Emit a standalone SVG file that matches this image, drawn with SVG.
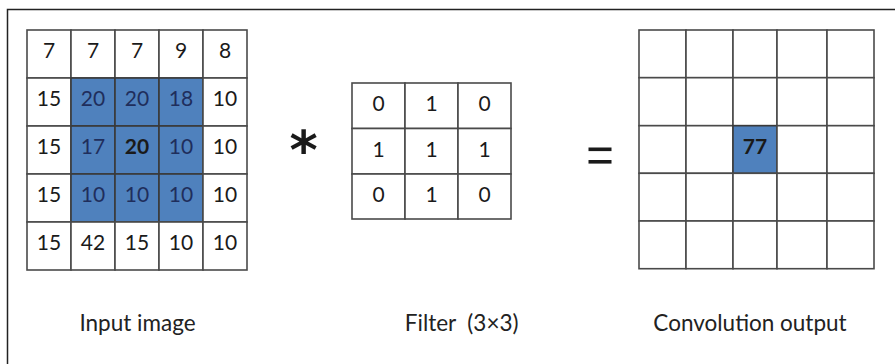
<svg xmlns="http://www.w3.org/2000/svg" width="895" height="364" viewBox="0 0 895 364">
<style>
.cell{fill:#ffffff;stroke:#4a4a4a;stroke-width:1.6}
.hl{fill:#4F81BD;stroke:#3a3a3a;stroke-width:1.6}
.num{font-family:Lato,"Liberation Sans",sans-serif;font-size:21px;fill:#1a1a1a;text-anchor:middle}
.numhl{fill:#1F2E5C}
.bold{font-weight:bold;fill:#1a1a1a}
.lbl{font-family:Lato,"Liberation Sans",sans-serif;font-size:22.5px;fill:#222;text-anchor:middle;white-space:pre}
</style>
<rect x="7.5" y="9.5" width="900" height="400" fill="#ffffff" stroke="#222" stroke-width="1.5"/>

<g id="input-image">
  <g id="input-cells">
    <rect class="cell" x="27" y="30" width="44" height="48"/>
    <rect class="cell" x="71" y="30" width="44" height="48"/>
    <rect class="cell" x="115" y="30" width="44" height="48"/>
    <rect class="cell" x="159" y="30" width="44" height="48"/>
    <rect class="cell" x="203" y="30" width="44" height="48"/>
    <rect class="cell" x="27" y="78" width="44" height="48"/>
    <rect class="hl" x="71" y="78" width="44" height="48"/>
    <rect class="hl" x="115" y="78" width="44" height="48"/>
    <rect class="hl" x="159" y="78" width="44" height="48"/>
    <rect class="cell" x="203" y="78" width="44" height="48"/>
    <rect class="cell" x="27" y="126" width="44" height="48"/>
    <rect class="hl" x="71" y="126" width="44" height="48"/>
    <rect class="hl" x="115" y="126" width="44" height="48"/>
    <rect class="hl" x="159" y="126" width="44" height="48"/>
    <rect class="cell" x="203" y="126" width="44" height="48"/>
    <rect class="cell" x="27" y="174" width="44" height="48"/>
    <rect class="hl" x="71" y="174" width="44" height="48"/>
    <rect class="hl" x="115" y="174" width="44" height="48"/>
    <rect class="hl" x="159" y="174" width="44" height="48"/>
    <rect class="cell" x="203" y="174" width="44" height="48"/>
    <rect class="cell" x="27" y="222" width="44" height="48"/>
    <rect class="cell" x="71" y="222" width="44" height="48"/>
    <rect class="cell" x="115" y="222" width="44" height="48"/>
    <rect class="cell" x="159" y="222" width="44" height="48"/>
    <rect class="cell" x="203" y="222" width="44" height="48"/>
  </g>
  <g id="input-values">
    <text class="num" x="49" y="58">7</text>
    <text class="num" x="93" y="58">7</text>
    <text class="num" x="137" y="58">7</text>
    <text class="num" x="181" y="58">9</text>
    <text class="num" x="225" y="58">8</text>
    <text class="num" x="49" y="106">15</text>
    <text class="num numhl" x="93" y="106">20</text>
    <text class="num numhl" x="137" y="106">20</text>
    <text class="num numhl" x="181" y="106">18</text>
    <text class="num" x="225" y="106">10</text>
    <text class="num" x="49" y="154">15</text>
    <text class="num numhl" x="93" y="154">17</text>
    <text class="num bold" x="137" y="154">20</text>
    <text class="num numhl" x="181" y="154">10</text>
    <text class="num" x="225" y="154">10</text>
    <text class="num" x="49" y="202">15</text>
    <text class="num numhl" x="93" y="202">10</text>
    <text class="num numhl" x="137" y="202">10</text>
    <text class="num numhl" x="181" y="202">10</text>
    <text class="num" x="225" y="202">10</text>
    <text class="num" x="49" y="250">15</text>
    <text class="num" x="93" y="250">42</text>
    <text class="num" x="137" y="250">15</text>
    <text class="num" x="181" y="250">10</text>
    <text class="num" x="225" y="250">10</text>
  </g>
</g>

<g id="operator-multiply">
  <text x="303.5" y="169" font-family="'DejaVu Sans',sans-serif" font-weight="bold" font-size="54" fill="#1a1a1a" text-anchor="middle">*</text>
</g>

<g id="filter">
  <rect class="cell" x="352" y="83" width="53" height="45.5"/>
  <rect class="cell" x="405" y="83" width="53" height="45.5"/>
  <rect class="cell" x="458" y="83" width="53" height="45.5"/>
  <rect class="cell" x="352" y="128.5" width="53" height="45.5"/>
  <rect class="cell" x="405" y="128.5" width="53" height="45.5"/>
  <rect class="cell" x="458" y="128.5" width="53" height="45.5"/>
  <rect class="cell" x="352" y="174" width="53" height="45"/>
  <rect class="cell" x="405" y="174" width="53" height="45"/>
  <rect class="cell" x="458" y="174" width="53" height="45"/>
  <text class="num" x="378.5" y="111">0</text>
  <text class="num" x="431.5" y="111">1</text>
  <text class="num" x="484.5" y="111">0</text>
  <text class="num" x="378.5" y="156.5">1</text>
  <text class="num" x="431.5" y="156.5">1</text>
  <text class="num" x="484.5" y="156.5">1</text>
  <text class="num" x="378.5" y="202">0</text>
  <text class="num" x="431.5" y="202">1</text>
  <text class="num" x="484.5" y="202">0</text>
</g>

<g id="operator-equals">
  <rect x="588.5" y="147.5" width="23" height="3.6" fill="#1a1a1a"/>
  <rect x="588.5" y="160" width="23" height="3.6" fill="#1a1a1a"/>
</g>

<g id="output">
  <rect class="cell" x="639" y="30" width="47" height="47.7"/>
  <rect class="cell" x="686" y="30" width="47" height="47.7"/>
  <rect class="cell" x="733" y="30" width="44" height="47.7"/>
  <rect class="cell" x="777" y="30" width="50" height="47.7"/>
  <rect class="cell" x="827" y="30" width="47" height="47.7"/>
  <rect class="cell" x="639" y="77.7" width="47" height="48"/>
  <rect class="cell" x="686" y="77.7" width="47" height="48"/>
  <rect class="cell" x="733" y="77.7" width="44" height="48"/>
  <rect class="cell" x="777" y="77.7" width="50" height="48"/>
  <rect class="cell" x="827" y="77.7" width="47" height="48"/>
  <rect class="cell" x="639" y="125.7" width="47" height="47.6"/>
  <rect class="cell" x="686" y="125.7" width="47" height="47.6"/>
  <rect class="hl" x="733" y="125.7" width="44" height="47.6"/>
  <rect class="cell" x="777" y="125.7" width="50" height="47.6"/>
  <rect class="cell" x="827" y="125.7" width="47" height="47.6"/>
  <rect class="cell" x="639" y="173.3" width="47" height="47.7"/>
  <rect class="cell" x="686" y="173.3" width="47" height="47.7"/>
  <rect class="cell" x="733" y="173.3" width="44" height="47.7"/>
  <rect class="cell" x="777" y="173.3" width="50" height="47.7"/>
  <rect class="cell" x="827" y="173.3" width="47" height="47.7"/>
  <rect class="cell" x="639" y="221" width="47" height="47.7"/>
  <rect class="cell" x="686" y="221" width="47" height="47.7"/>
  <rect class="cell" x="733" y="221" width="44" height="47.7"/>
  <rect class="cell" x="777" y="221" width="50" height="47.7"/>
  <rect class="cell" x="827" y="221" width="47" height="47.7"/>
  <text class="num bold" x="755" y="153.5">77</text>
</g>

<g id="labels">
  <text class="lbl" x="137.5" y="331">Input image</text>
  <text class="lbl" x="461.7" y="331">Filter  (3×3)</text>
  <text class="lbl" x="750" y="331">Convolution output</text>
</g>
</svg>
